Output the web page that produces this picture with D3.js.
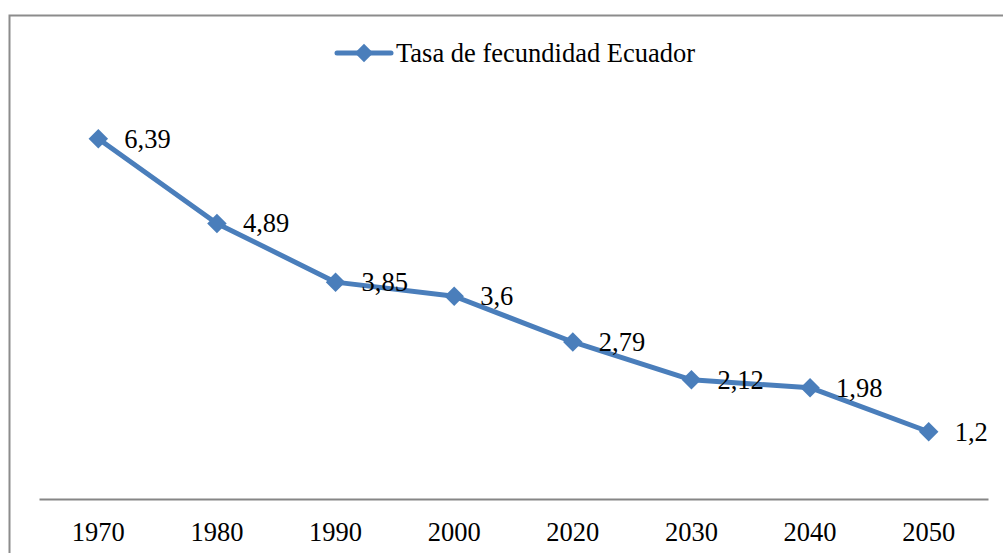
<!DOCTYPE html>
<html><head><meta charset="utf-8">
<script src="https://cdn.jsdelivr.net/npm/d3@7"></script>
<style>body{margin:0;background:#fff}svg{display:block}</style>
</head><body>
<svg id="c" width="1003" height="553"></svg>
<script>
const categories = ["1970","1980","1990","2000","2020","2030","2040","2050"];
const values = [6.39, 4.89, 3.85, 3.6, 2.79, 2.12, 1.98, 1.2];
const valueLabels = ["6,39","4,89","3,85","3,6","2,79","2,12","1,98","1,2"];
const seriesName = "Tasa de fecundidad Ecuador";

const svg = d3.select("#c");
const color = "#4A7EBB";
const FONT = '"Liberation Serif"';
const FS = "26.5px";

svg.append("rect").attr("x",9.5).attr("y",15.5).attr("width",1100).attr("height",700)
  .attr("fill","none").attr("stroke","#8c8c8c").attr("stroke-width",2);

const x = d3.scaleBand().domain(categories).range([39, 988]);
const y = d3.scaleLinear().domain([0, 7]).range([499.5, 104.3]);

const xAxis = svg.append("g").attr("transform","translate(0,499)")
  .call(d3.axisBottom(x).tickSize(0).tickPadding(22));
xAxis.attr("font-family", null);
xAxis.select(".domain").attr("stroke","#868686").attr("stroke-width",2);
xAxis.selectAll("text").style("font-family",FONT).style("font-size",FS).attr("fill","#000").attr("dy","0.76em");

const data = categories.map((c,i)=>({c, v:values[i], l:valueLabels[i]}));
const cx = d => x(d.c) + x.bandwidth()/2;

svg.append("path").datum(data)
  .attr("d", d3.line().x(cx).y(d=>y(d.v)))
  .attr("fill","none").attr("stroke",color).attr("stroke-width",5).attr("stroke-linejoin","round");

svg.selectAll(".m").data(data).enter().append("path")
  .attr("transform", d=>`translate(${cx(d)},${y(d.v)}) rotate(45)`)
  .attr("d", d3.symbol().type(d3.symbolSquare).size(190))
  .attr("fill",color);

svg.selectAll(".lbl").data(data).enter().append("text")
  .attr("x", d=>cx(d)+26).attr("y", d=>y(d.v)+9)
  .style("font-family",FONT).style("font-size",FS).attr("fill","#000")
  .text(d=>d.l);

// legend
const lg = svg.append("g");
lg.append("line").attr("x1",337).attr("x2",391).attr("y1",53).attr("y2",53)
  .attr("stroke",color).attr("stroke-width",5).attr("stroke-linecap","round");
lg.append("path").attr("transform","translate(364,53) rotate(45)")
  .attr("d", d3.symbol().type(d3.symbolSquare).size(170)).attr("fill",color);
lg.append("text").attr("x",396).attr("y",62)
  .style("font-family",FONT).style("font-size",FS)
  .attr("fill","#000").text(seriesName);
</script>
</body></html>
